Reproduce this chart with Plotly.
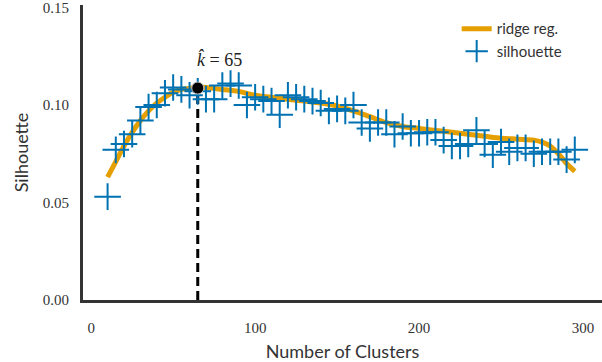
import plotly.graph_objects as go

# silhouette score per number of clusters
clusters = list(range(10, 300, 5))
silhouette = [
    0.053, 0.077, 0.080, 0.085, 0.092, 0.099, 0.100, 0.106, 0.109, 0.108,
    0.105, 0.107, 0.103, 0.103, 0.110, 0.111, 0.110, 0.100, 0.104, 0.103,
    0.102, 0.095, 0.105, 0.104, 0.103, 0.102, 0.101, 0.097, 0.098, 0.097,
    0.100, 0.091, 0.088, 0.091, 0.091, 0.085, 0.089, 0.0855, 0.0855, 0.086,
    0.086, 0.082, 0.079, 0.079, 0.080, 0.087, 0.080, 0.0745, 0.081, 0.076,
    0.078, 0.078, 0.075, 0.076, 0.076, 0.076, 0.072, 0.077,
]

# ridge regression fit
ridge_k = [10, 15, 20, 25, 30, 35, 40, 45, 50, 55, 60, 65, 70, 80, 90, 100, 110,
           120, 130, 140, 150, 160, 170, 180, 190, 200, 210, 220, 230, 240, 250,
           260, 270, 275, 280, 285, 290, 295]
ridge_fit = [0.063, 0.071, 0.079, 0.086, 0.092, 0.097, 0.101, 0.104, 0.1065, 0.108,
             0.1085, 0.109, 0.109, 0.108, 0.107, 0.105, 0.104, 0.103, 0.102, 0.101,
             0.0995, 0.097, 0.094, 0.091, 0.089, 0.088, 0.087, 0.086, 0.085, 0.084,
             0.083, 0.0825, 0.082, 0.081, 0.079, 0.075, 0.070, 0.066]

best_k = 65
best_score = 0.1087

blue = "#0072B2"
orange = "#E69F00"
spine = "#333333"
serif = "Liberation Serif, serif"

fig = go.Figure()

fig.add_trace(go.Scatter(
    x=[best_k, best_k], y=[0, best_score], mode="lines",
    line=dict(color="black", width=3, dash="9px,5px"),
    showlegend=False, hoverinfo="skip",
))

fig.add_trace(go.Scatter(
    x=ridge_k, y=ridge_fit, mode="lines", name="ridge reg.",
    line=dict(color=orange, width=5, shape="spline"),
))

fig.add_trace(go.Scatter(
    x=clusters, y=silhouette, mode="markers", name="silhouette",
    marker=dict(symbol="cross-thin", size=19, color=blue,
                line=dict(color=blue, width=2)),
))

fig.add_trace(go.Scatter(
    x=[best_k], y=[best_score], mode="markers", showlegend=False,
    marker=dict(color="black", size=12, line=dict(color="#bbbbbb", width=1)),
))

fig.add_annotation(
    x=best_k, y=best_score, text="<i>k̂</i> = 65", showarrow=False,
    xanchor="left", yanchor="bottom", xshift=-3, yshift=16,
    font=dict(family=serif, size=18, color="#222222"),
)

fig.update_layout(
    width=602, height=362,
    margin=dict(l=83, r=0, t=5, b=62),
    plot_bgcolor="white", paper_bgcolor="white",
    font=dict(family="Lato, Noto Sans, sans-serif", size=15, color="#333333"),
    legend=dict(x=0.72, y=0.975, xanchor="left", yanchor="top",
                font=dict(size=15), bgcolor="rgba(0,0,0,0)"),
    xaxis=dict(
        range=[-5, 311.6], tickvals=[0, 100, 200, 300], showgrid=False,
        zeroline=False, showline=True, linewidth=3, linecolor=spine,
        ticks="", ticklabelstandoff=12, automargin=False,
        ticklabeloverflow="allow",
        tickfont=dict(family=serif, size=15, color="#333333"),
        title=dict(text="Number of Clusters", standoff=12),
    ),
    yaxis=dict(
        range=[0, 0.1513], tickvals=[0, 0.05, 0.10, 0.15], tickformat=".2f",
        showgrid=False, zeroline=False, showline=True, linewidth=3,
        linecolor=spine, ticks="", ticklabelstandoff=8, automargin=False,
        ticklabeloverflow="allow",
        tickfont=dict(family=serif, size=15, color="#333333"),
        title=dict(text="Silhouette", standoff=10),
    ),
)

# page body has a default 8px margin, drop it so the figure fills the window
fig.write_html("out.html", config={"displayModeBar": False},
               post_script="document.body.style.margin = '0';")
